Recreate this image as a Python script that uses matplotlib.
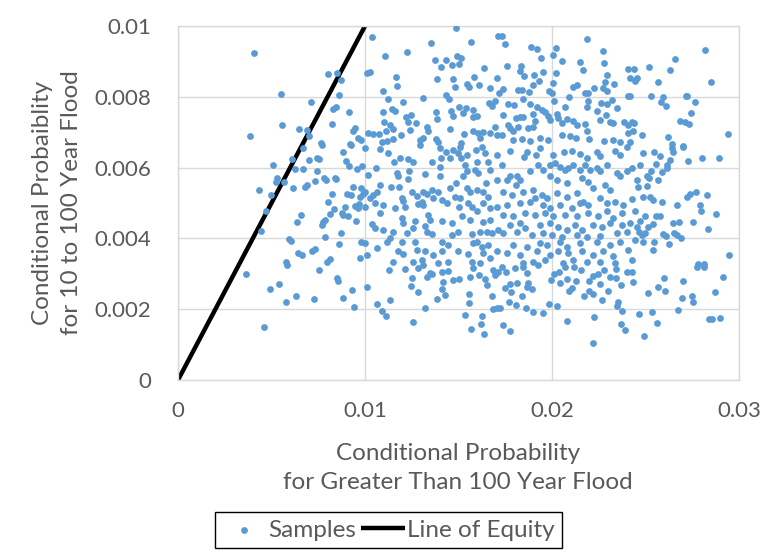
import numpy as np
import matplotlib
matplotlib.use("Agg")
import matplotlib.pyplot as plt

plt.rcParams['font.family'] = ['Lato', 'DejaVu Sans']

# sampled conditional probabilities, in thousandths: (greater than 100 yr, 10 to 100 yr)
upper_left = np.array([
    (4.08, 9.24), (8.00, 8.65), (8.48, 8.66), (8.72, 8.48), (10.09, 8.68),
    (5.51, 8.07), (7.11, 7.85), (8.61, 8.05), (8.31, 7.66), (8.45, 7.70),
    (9.16, 7.56), (5.56, 7.21), (6.45, 7.08), (6.92, 7.06), (7.02, 6.90),
    (8.22, 7.22), (3.85, 6.89), (7.65, 6.69), (9.34, 7.04), (9.46, 7.13),
    (9.64, 6.85), (9.79, 6.78), (10.18, 6.97), (9.20, 6.66),
])
upper_mid = np.array([
    (10.39, 9.70), (14.87, 9.94), (13.53, 9.53), (15.67, 9.54), (17.13, 9.73),
    (11.07, 9.16), (12.23, 9.26), (13.75, 9.04), (14.05, 8.85), (14.33, 9.04),
    (14.64, 8.90), (14.94, 9.14), (15.14, 9.11), (15.05, 8.93), (16.38, 8.82),
    (10.27, 8.69), (11.66, 8.57), (11.70, 8.31), (13.87, 8.50), (14.69, 8.50),
    (14.83, 8.27), (15.47, 8.35), (15.55, 8.27), (15.83, 8.55), (16.08, 8.33),
    (16.69, 8.26), (17.08, 8.54), (17.17, 8.10), (10.95, 8.15), (11.25, 7.94),
    (13.12, 7.96), (12.05, 7.86), (14.33, 8.05), (14.49, 7.94), (11.43, 7.66),
    (11.61, 7.60), (10.98, 7.58), (12.20, 7.44), (12.44, 7.49), (12.32, 7.30),
    (12.73, 7.25), (13.80, 7.56), (13.84, 7.37), (14.60, 7.61), (14.69, 7.47),
    (15.00, 7.70), (15.26, 7.53), (15.40, 7.68), (15.80, 7.63), (15.80, 7.44),
    (15.97, 7.47), (16.63, 7.82), (16.78, 7.75), (16.95, 7.88), (11.02, 7.30),
    (11.34, 7.21), (11.13, 7.04), (11.48, 7.08), (12.41, 7.05), (13.34, 7.14),
    (13.39, 7.02), (14.55, 7.08), (15.31, 6.94), (15.76, 7.04), (16.03, 6.97),
    (16.29, 7.00), (16.69, 6.97), (16.95, 7.16), (17.04, 6.92), (10.41, 6.94),
    (10.77, 6.95), (11.91, 6.92), (10.89, 6.73), (11.16, 6.75), (11.48, 6.81),
    (12.94, 6.78), (13.09, 6.83), (13.80, 6.81), (13.92, 6.72), (15.12, 6.69),
    (16.15, 6.83),
])
upper_right = np.array([
    (17.31, 9.72), (17.49, 9.48), (18.86, 9.42), (19.18, 9.35), (20.21, 9.39),
    (20.04, 9.18), (19.39, 9.11), (21.85, 9.63), (22.71, 9.30), (20.52, 9.01),
    (21.50, 8.98), (22.78, 8.96), (21.68, 8.76), (17.58, 8.88), (18.33, 8.88),
    (18.29, 8.73), (18.50, 8.59), (19.06, 8.62), (19.54, 8.71), (19.31, 8.45),
    (20.21, 8.66), (22.92, 8.62), (24.08, 8.79), (20.07, 8.38), (18.97, 8.32),
    (21.14, 8.29), (21.36, 8.33), (22.25, 8.24), (22.83, 8.41), (22.75, 8.24),
    (23.32, 8.36), (17.40, 8.22), (18.20, 8.18), (18.38, 8.19), (18.77, 8.13),
    (19.86, 8.15), (20.02, 8.10), (21.77, 8.10), (21.94, 8.10), (22.96, 8.15),
    (20.91, 7.99), (17.67, 7.79), (17.97, 7.77), (18.47, 7.94), (18.82, 7.79),
    (19.18, 7.72), (19.45, 7.63), (19.63, 7.56), (20.11, 7.88), (20.70, 7.72),
    (21.94, 7.88), (21.89, 7.72), (22.62, 7.82), (22.96, 7.79), (23.19, 7.91),
    (23.49, 7.68), (24.08, 8.01), (17.36, 7.49), (18.08, 7.41), (18.29, 7.44),
    (18.43, 7.44), (19.00, 7.51), (19.09, 7.32), (19.80, 7.47), (19.89, 7.35),
    (20.25, 7.51), (20.34, 7.39), (20.52, 7.27), (20.79, 7.37), (21.14, 7.33),
    (21.32, 7.19), (21.77, 7.23), (21.85, 7.02), (22.39, 7.60), (22.57, 7.35),
    (22.89, 7.49), (23.10, 7.28), (23.24, 7.25), (23.85, 7.30), (24.08, 7.21),
    (17.67, 7.21), (17.75, 7.11), (17.93, 7.02), (18.20, 7.16), (18.74, 7.11),
    (19.00, 7.16), (17.31, 6.92), (17.93, 6.78), (18.38, 6.81), (18.82, 6.75),
    (19.36, 6.85), (19.80, 6.78), (20.52, 6.92), (20.96, 6.88), (21.28, 6.83),
    (22.00, 6.81), (22.78, 6.75), (23.28, 6.78), (23.64, 6.72), (24.08, 6.97),
])
upper_far = np.array([
    (28.18, 9.32), (26.58, 9.07), (25.20, 8.85), (24.38, 8.79), (26.31, 8.76),
    (24.17, 8.54), (24.44, 8.45), (24.56, 8.52), (25.69, 8.41), (28.48, 8.43),
    (24.17, 8.01), (25.29, 8.02), (25.95, 8.00), (25.81, 7.84), (26.09, 7.74),
    (27.16, 8.03), (27.24, 8.01), (27.66, 7.86), (27.43, 7.55), (26.84, 7.32),
    (27.11, 7.30), (27.34, 7.23), (24.26, 7.30), (24.38, 7.25), (24.31, 7.04),
    (24.79, 6.92), (26.22, 6.86), (29.43, 6.94), (24.17, 6.72), (26.40, 6.66),
    (27.02, 6.62),
])
middle_left = np.array([
    (4.42, 4.21), (4.71, 4.76), (4.99, 5.23), (4.31, 5.38), (5.28, 5.70),
    (5.24, 5.60), (5.06, 6.06), (5.69, 5.58), (6.11, 6.24), (6.13, 5.42),
    (6.26, 5.95), (6.68, 5.95), (6.70, 6.56), (7.02, 6.22), (7.45, 6.28),
    (7.54, 6.24), (7.68, 6.64), (7.45, 5.89), (7.33, 5.62), (6.88, 5.51),
    (6.81, 5.46), (7.81, 5.70), (7.90, 5.66), (8.39, 5.72), (8.43, 5.67),
    (8.84, 6.43), (8.97, 6.19), (9.14, 6.05), (9.55, 5.97), (9.86, 6.05),
    (9.25, 6.64), (10.00, 6.55), (10.14, 5.79), (9.05, 5.26), (9.23, 5.23),
    (9.38, 5.44), (9.79, 5.43), (9.73, 5.18), (9.87, 5.26), (10.00, 5.32),
    (9.68, 4.97), (9.46, 4.92), (9.62, 4.85), (10.00, 4.90), (8.22, 5.26),
    (8.04, 5.04), (8.34, 4.83), (8.93, 4.88), (8.75, 4.73), (8.84, 4.66),
    (9.11, 4.62), (9.50, 4.49), (8.13, 4.69), (7.86, 4.52), (7.68, 4.38),
    (7.77, 4.45), (6.58, 4.66), (6.35, 4.46), (5.93, 3.98), (6.02, 3.93),
    (7.88, 4.03), (8.70, 4.16), (8.61, 3.83), (6.43, 3.58), (6.61, 3.54),
    (7.15, 3.65), (7.34, 3.71), (5.79, 3.33), (7.95, 3.34), (8.13, 3.41),
    (9.80, 3.91), (10.00, 3.86), (10.09, 3.53), (9.73, 3.44),
])
middle_mid = np.array([
    (10.80, 6.53), (11.25, 6.40), (11.87, 6.28), (11.55, 6.15), (12.32, 6.24),
    (12.55, 6.17), (12.94, 6.64), (14.01, 6.55), (14.33, 6.45), (14.73, 6.50),
    (15.08, 6.59), (14.99, 6.40), (14.55, 6.26), (14.05, 6.28), (13.57, 6.15),
    (14.01, 6.03), (15.12, 6.26), (15.44, 6.36), (15.94, 6.50), (16.24, 6.59),
    (16.42, 6.40), (16.56, 6.17), (16.69, 5.93), (17.04, 6.36), (15.35, 6.08),
    (15.97, 6.17), (10.59, 5.98), (11.73, 5.86), (11.79, 5.75), (12.32, 5.68),
    (12.37, 5.91), (13.21, 5.81), (14.01, 5.75), (15.23, 5.75), (15.44, 5.89),
    (15.88, 5.93), (16.06, 5.84), (16.47, 5.56), (17.04, 5.65), (10.80, 5.51),
    (11.38, 5.44), (11.84, 5.46), (12.50, 5.30), (12.77, 5.21), (13.12, 5.32),
    (13.30, 5.25), (13.57, 5.37), (13.66, 5.13), (13.92, 5.32), (14.10, 5.09),
    (14.55, 5.42), (14.87, 5.56), (14.82, 5.18), (15.08, 5.13), (15.44, 5.42),
    (15.62, 5.32), (15.97, 5.37), (16.29, 5.32), (16.60, 5.18), (10.27, 5.13),
    (10.45, 5.23), (10.63, 5.32), (10.54, 4.99), (10.95, 4.95), (11.61, 4.87),
    (11.96, 5.13), (12.05, 5.06), (12.14, 4.90), (13.03, 5.04), (13.12, 4.95),
    (12.85, 4.96), (14.37, 4.99), (15.05, 4.90), (15.53, 4.99), (15.71, 4.90),
    (15.97, 4.76), (16.33, 4.99), (16.69, 4.85), (17.04, 4.90), (10.80, 4.71),
    (11.96, 4.59), (12.05, 4.43), (12.68, 4.49), (13.39, 4.66), (13.48, 4.52),
    (14.10, 4.49), (14.64, 4.43), (15.17, 4.64), (15.62, 4.52), (16.33, 4.46),
    (16.69, 4.52), (10.36, 4.40), (10.54, 4.29), (10.98, 4.24), (11.52, 4.17),
    (12.23, 4.14), (12.59, 4.30), (13.21, 4.36), (13.30, 4.17), (13.57, 4.12),
    (14.64, 4.10), (14.99, 4.17), (15.71, 4.12), (16.15, 4.17), (16.51, 4.19),
    (16.78, 4.14), (17.13, 4.24), (11.16, 3.91), (11.34, 4.00), (11.96, 3.91),
    (12.68, 3.91), (14.10, 3.91), (14.46, 3.82), (15.80, 3.86), (15.97, 3.91),
    (16.24, 3.77), (16.60, 3.82), (10.63, 3.72), (11.79, 3.63), (12.05, 3.55),
    (12.77, 3.67), (13.21, 3.63), (13.66, 3.53), (14.10, 3.65), (14.99, 3.63),
    (15.53, 3.55), (16.33, 3.58), (16.69, 3.44), (17.04, 3.63), (11.52, 3.34),
    (12.59, 3.33), (13.03, 3.39), (13.92, 3.30), (14.46, 3.33), (15.71, 3.34),
    (16.15, 3.30),
])
middle_right = np.array([
    (17.75, 6.47), (18.50, 6.31), (18.65, 6.43), (19.36, 6.55), (19.15, 6.36),
    (20.07, 6.36), (20.66, 6.45), (21.05, 6.47), (21.50, 6.38), (21.89, 6.26),
    (22.39, 6.45), (22.57, 6.34), (23.37, 6.47), (23.64, 6.36), (23.99, 6.59),
    (17.31, 6.08), (17.75, 5.75), (17.58, 5.65), (18.11, 5.75), (18.29, 5.65),
    (18.08, 5.51), (18.82, 5.89), (19.27, 6.08), (19.54, 5.93), (19.89, 6.08),
    (20.16, 6.12), (20.43, 6.03), (20.70, 5.93), (20.88, 5.98), (21.14, 6.08),
    (21.50, 5.93), (21.77, 6.08), (22.03, 5.93), (22.39, 5.98), (22.57, 5.89),
    (22.92, 6.08), (23.46, 5.84), (23.64, 5.75), (23.99, 5.89), (19.89, 5.75),
    (20.25, 5.65), (20.79, 5.56), (21.59, 5.70), (21.94, 5.60), (22.21, 5.42),
    (22.83, 5.51), (23.10, 5.37), (17.40, 5.32), (17.84, 5.23), (18.47, 5.32),
    (19.00, 5.37), (19.45, 5.23), (19.72, 5.13), (20.25, 5.27), (20.79, 5.18),
    (21.32, 5.27), (21.68, 5.04), (19.09, 5.13), (18.82, 5.04), (18.29, 4.99),
    (17.58, 4.95), (19.54, 4.95), (19.89, 4.85), (20.43, 4.95), (21.05, 4.87),
    (21.50, 4.99), (21.94, 4.95), (22.57, 5.13), (22.92, 4.99), (23.37, 5.04),
    (23.82, 4.95), (17.40, 4.66), (17.93, 4.62), (18.56, 4.71), (19.09, 4.66),
    (19.63, 4.71), (20.07, 4.62), (20.70, 4.66), (21.32, 4.62), (21.94, 4.71),
    (22.48, 4.62), (22.92, 4.76), (23.28, 4.57), (23.73, 4.71), (17.75, 4.38),
    (18.29, 4.43), (18.56, 4.29), (19.36, 4.38), (19.89, 4.43), (20.34, 4.33),
    (20.79, 4.24), (21.23, 4.38), (21.59, 4.24), (22.21, 4.38), (22.66, 4.33),
    (23.10, 4.43), (23.73, 4.38), (17.40, 4.14), (18.11, 4.19), (18.91, 4.10),
    (19.54, 4.14), (19.98, 4.10), (20.52, 4.05), (21.32, 4.10), (21.86, 4.05),
    (22.57, 4.08), (23.46, 4.14), (23.99, 4.19), (17.93, 3.82), (18.65, 3.77),
    (19.36, 3.86), (19.72, 3.82), (20.43, 3.91), (20.79, 3.77), (21.50, 3.86),
    (22.39, 3.91), (23.10, 3.82), (23.64, 3.91), (17.58, 3.58), (18.29, 3.53),
    (19.18, 3.63), (19.89, 3.53), (20.34, 3.63), (20.88, 3.58), (21.59, 3.63),
    (22.21, 3.53), (22.75, 3.63), (23.28, 3.49), (24.08, 3.67), (18.47, 3.30),
    (19.00, 3.34), (19.63, 3.39), (20.61, 3.30), (21.14, 3.39), (21.86, 3.34),
    (22.57, 3.33), (23.37, 3.30),
])
middle_far = np.array([
    (24.85, 6.40), (25.47, 6.45), (25.77, 6.34), (26.40, 6.55), (26.49, 6.45),
    (26.99, 6.59), (26.31, 6.22), (26.17, 6.08), (26.13, 6.00), (25.86, 5.87),
    (25.56, 6.09), (27.29, 6.20), (28.04, 6.28), (28.95, 6.26), (24.26, 5.98),
    (24.70, 6.08), (25.28, 5.89), (25.06, 5.75), (25.20, 5.70), (24.53, 5.65),
    (25.69, 5.65), (24.62, 5.46), (25.06, 5.49), (24.26, 5.11), (24.85, 5.18),
    (25.24, 5.18), (25.42, 5.09), (25.86, 5.02), (27.20, 5.18), (27.38, 5.25),
    (27.70, 5.32), (28.27, 5.23), (26.70, 4.93), (27.91, 4.93), (27.97, 4.78),
    (28.77, 4.69), (24.44, 4.78), (24.97, 4.64), (25.56, 4.62), (25.77, 4.63),
    (24.70, 4.49), (25.38, 4.40), (25.15, 4.33), (24.17, 4.43), (24.53, 4.33),
    (26.45, 4.43), (26.81, 4.45), (27.56, 4.46), (28.36, 4.27), (24.67, 4.19),
    (24.79, 4.10), (24.97, 4.14), (24.88, 3.91), (24.44, 3.96), (25.45, 3.89),
    (25.95, 4.12), (26.10, 4.07), (26.27, 3.84), (26.52, 4.14), (26.67, 4.10),
    (26.88, 4.02), (25.42, 3.67), (24.26, 3.39), (29.48, 3.53), (27.83, 3.27),
    (28.13, 3.27),
])
lower_left = np.array([
    (3.65, 3.00), (4.92, 2.57), (5.40, 2.71), (5.77, 2.21), (6.31, 2.38),
    (7.29, 2.28), (7.56, 3.12), (8.48, 2.89), (8.57, 2.80), (8.84, 2.31),
    (9.32, 2.54), (9.41, 2.07), (10.09, 2.63), (4.60, 1.49), (5.81, 3.25),
])
lower_mid = np.array([
    (11.30, 3.11), (12.14, 3.14), (12.85, 3.16), (13.12, 3.25), (12.50, 2.87),
    (12.46, 2.66), (12.85, 2.50), (13.30, 2.92), (13.48, 3.01), (13.57, 2.99),
    (14.10, 3.04), (14.19, 2.76), (14.10, 2.56), (14.28, 2.40), (13.84, 2.29),
    (14.42, 3.08), (14.69, 2.83), (15.05, 2.85), (15.62, 2.90), (15.80, 3.17),
    (16.12, 2.97), (16.42, 2.85), (16.51, 2.67), (16.87, 3.11), (16.95, 2.97),
    (17.13, 3.06), (15.58, 2.42), (15.58, 2.17), (16.78, 2.37), (16.87, 2.01),
    (17.04, 2.04), (10.63, 2.15), (11.34, 2.26), (10.89, 1.96), (11.13, 1.82),
    (13.21, 2.04), (12.55, 1.65), (15.35, 1.84), (16.24, 1.81), (15.67, 1.44),
    (16.21, 1.58), (16.38, 1.30),
])
lower_right = np.array([
    (17.31, 3.20), (17.54, 3.04), (18.02, 3.16), (18.47, 3.20), (18.65, 3.01),
    (19.27, 3.25), (17.49, 2.61), (17.79, 2.48), (17.75, 2.71), (18.15, 2.73),
    (18.38, 2.36), (18.74, 2.73), (18.68, 2.64), (18.95, 2.57), (17.72, 2.21),
    (18.08, 2.12), (18.61, 2.03), (18.97, 1.93), (19.54, 1.88), (19.86, 2.14),
    (20.25, 2.08), (19.93, 2.83), (20.11, 2.99), (20.39, 3.06), (20.70, 3.20),
    (20.43, 2.73), (20.82, 2.85), (21.28, 2.80), (21.18, 3.20), (21.53, 3.11),
    (20.93, 2.52), (21.09, 2.59), (21.73, 2.36), (22.00, 2.52), (22.18, 2.42),
    (22.00, 2.80), (22.18, 2.95), (22.48, 2.99), (22.57, 2.70), (22.78, 3.11),
    (22.98, 2.52), (22.69, 2.26), (23.10, 2.92), (23.40, 2.87), (23.40, 3.14),
    (23.67, 2.69), (24.00, 3.06), (23.55, 2.20), (23.46, 2.10), (23.73, 1.95),
    (20.79, 1.67), (22.26, 1.79), (23.69, 1.57), (23.92, 1.40), (22.18, 1.05),
    (17.36, 1.54), (17.75, 1.39), (17.22, 2.04),
])
lower_far = np.array([
    (24.26, 3.06), (24.31, 2.76), (25.15, 2.45), (25.65, 2.62), (26.01, 2.89),
    (26.04, 2.52), (27.02, 2.81), (26.97, 2.33), (27.47, 2.36), (27.56, 2.20),
    (27.74, 3.20), (28.13, 3.20), (28.70, 2.50), (29.16, 2.92), (24.65, 1.87),
    (25.36, 1.91), (25.63, 1.62), (26.75, 1.98), (24.90, 1.24), (28.38, 1.72),
    (28.57, 1.71), (28.98, 1.74),
])

equity_x = [0.0, 0.01]
equity_y = [0.0, 0.01]

x_ticks = [0.0, 0.01, 0.02, 0.03]
x_tick_labels = ["0", "0.01", "0.02", "0.03"]
y_ticks = [0.0, 0.002, 0.004, 0.006, 0.008, 0.01]
y_tick_labels = ["0", "0.002", "0.004", "0.006", "0.008", "0.01"]

samples = np.vstack([upper_left, upper_mid, upper_right, upper_far,
                     middle_left, middle_mid, middle_right, middle_far,
                     lower_left, lower_mid, lower_right, lower_far]) * 1e-3

text_grey = '#595959'
grid_grey = '#d9d9d9'
title_size = 17.5

fig = plt.figure(figsize=(7.64, 5.56), dpi=100)
ax = fig.add_axes([178 / 764, 176 / 556, 561 / 764, 354 / 556])

ax.plot(equity_x, equity_y, color='black', lw=3.2, solid_capstyle='butt',
        label='Line of Equity', zorder=2)
ax.scatter(samples[:, 0], samples[:, 1], s=24, color='#5b9bd5', linewidths=0,
           label='Samples', zorder=3)

ax.set_xlim(0, 0.03)
ax.set_ylim(0, 0.01)
ax.set_xticks(x_ticks, labels=x_tick_labels)
ax.set_yticks(y_ticks, labels=y_tick_labels)
ax.tick_params(length=0, labelsize=16, labelcolor=text_grey)
ax.tick_params(axis='y', pad=19)
ax.tick_params(axis='x', pad=15)
ax.grid(True, color=grid_grey, lw=1.0, zorder=0)
ax.set_axisbelow(True)
for side in ax.spines.values():
    side.set_color(grid_grey)
    side.set_linewidth(1.0)

fig.text(57 / 764, 1 - 203 / 556, "Conditional Probaiblity\nfor 10 to 100 Year Flood",
         rotation=90, ha='center', va='center', multialignment='center',
         fontsize=title_size, color=text_grey, linespacing=1.5)
fig.text(458 / 764, 1 - 468 / 556,
         "Conditional Probability\nfor Greater Than 100 Year Flood",
         ha='center', va='center', multialignment='center',
         fontsize=title_size, color=text_grey, linespacing=1.5)

handles, labels = ax.get_legend_handles_labels()
leg = fig.legend(handles[::-1], labels[::-1], loc='center left',
                 bbox_to_anchor=(215 / 764, 1 - 530 / 556),
                 ncol=2, fontsize=title_size, frameon=True, fancybox=False,
                 edgecolor='black', framealpha=1, handlelength=1.8,
                 handletextpad=0.1, columnspacing=0.2, borderpad=0.3,
                 borderaxespad=0)
leg.get_frame().set_linewidth(1.0)
for t in leg.get_texts():
    t.set_color(text_grey)

fig.savefig('out.png', dpi=100)
